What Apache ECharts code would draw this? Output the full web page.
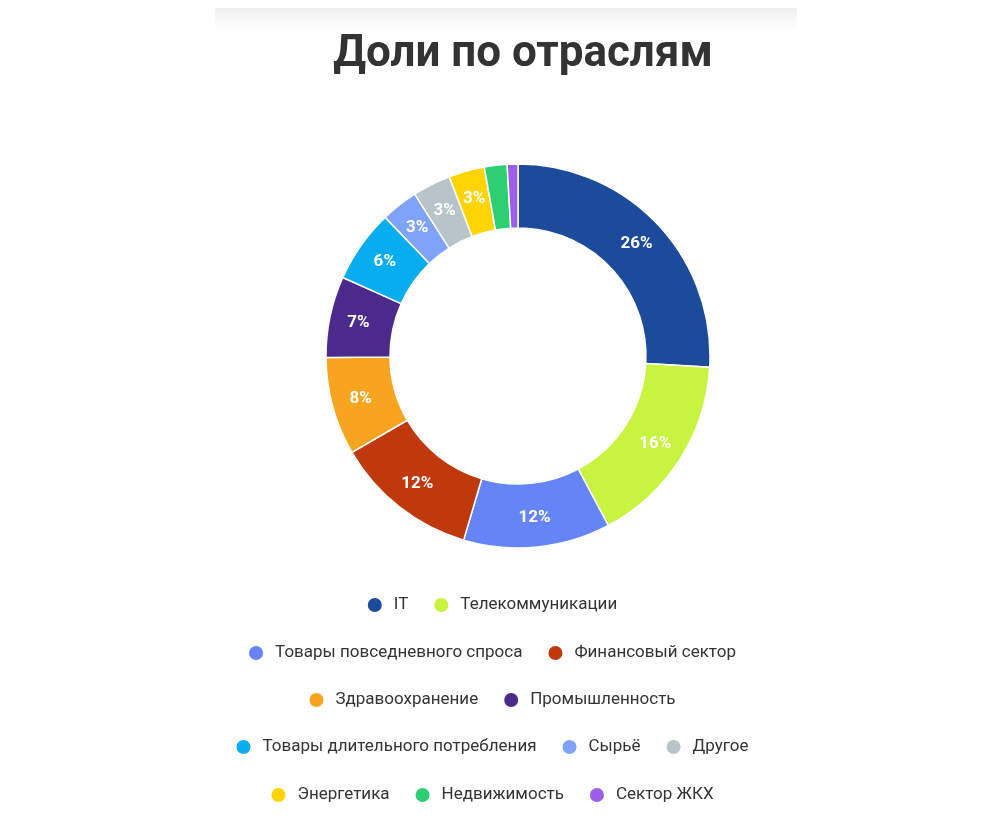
<!DOCTYPE html>
<html><head><meta charset="utf-8">
<script src="https://cdn.jsdelivr.net/npm/echarts@6/dist/echarts.min.js"></script>
<style>html,body{margin:0;padding:0;background:#fff}#c{width:983px;height:837px}</style>
</head><body><div id="c"></div>
<script>
const categories = ['IT','Телекоммуникации','Товары повседневного спроса','Финансовый сектор','Здравоохранение','Промышленность','Товары длительного потребления','Сырьё','Другое','Энергетика','Недвижимость','Сектор ЖКХ'];
const values = [25.8,16.2,12.3,12.0,8.2,6.8,6.1,3.1,3.2,3.0,1.9,0.9];
const legendRows = [[0,1],[2,3],[4,5],[6,7,8],[9,10,11]];
const colors = ['#1d4b9b','#c8f33e','#6584f6','#c0390c','#f7a520','#4b2a8c','#06aeef','#7fa3fb','#b8c3ca','#ffd400','#2dcf73','#9a5fe6'];
const chart = echarts.init(document.getElementById('c'));
const rowTops = [596,644,691,738,786];
chart.setOption({
  animation:false,
  graphic:[{type:'rect',left:215,top:8,shape:{width:582,height:22},style:{fill:new echarts.graphic.LinearGradient(0,0,0,1,[{offset:0,color:'#efefef'},{offset:1,color:'#ffffff'}])}}],
  title:{text:'Доли по отраслям',left:518,textAlign:'center',top:28,textStyle:{fontFamily:'Roboto',fontWeight:'bold',fontSize:44,color:'#333'}},
  legend:legendRows.map((r,k)=>({top:rowTops[k],left:'center',itemGap:24,icon:'circle',itemWidth:16,itemHeight:16,
    textStyle:{fontFamily:'Roboto',fontSize:17,color:'#333',padding:[0,0,0,6]},padding:0,
    data:r.map(i=>categories[i])})),
  series:[{type:'pie',center:[518,356],radius:[128,192],startAngle:90,clockwise:true,
    itemStyle:{borderColor:'#fff',borderWidth:1.5},
    label:{position:'inside',color:'#fff',fontFamily:'Roboto',fontWeight:'bold',fontSize:17,
      formatter:p=>p.value>=2.5?Math.round(p.value)+'%':''},
    labelLine:{show:false},
    data:categories.map((n,i)=>({name:n,value:values[i],itemStyle:{color:colors[i]}}))}]
});
</script></body></html>
